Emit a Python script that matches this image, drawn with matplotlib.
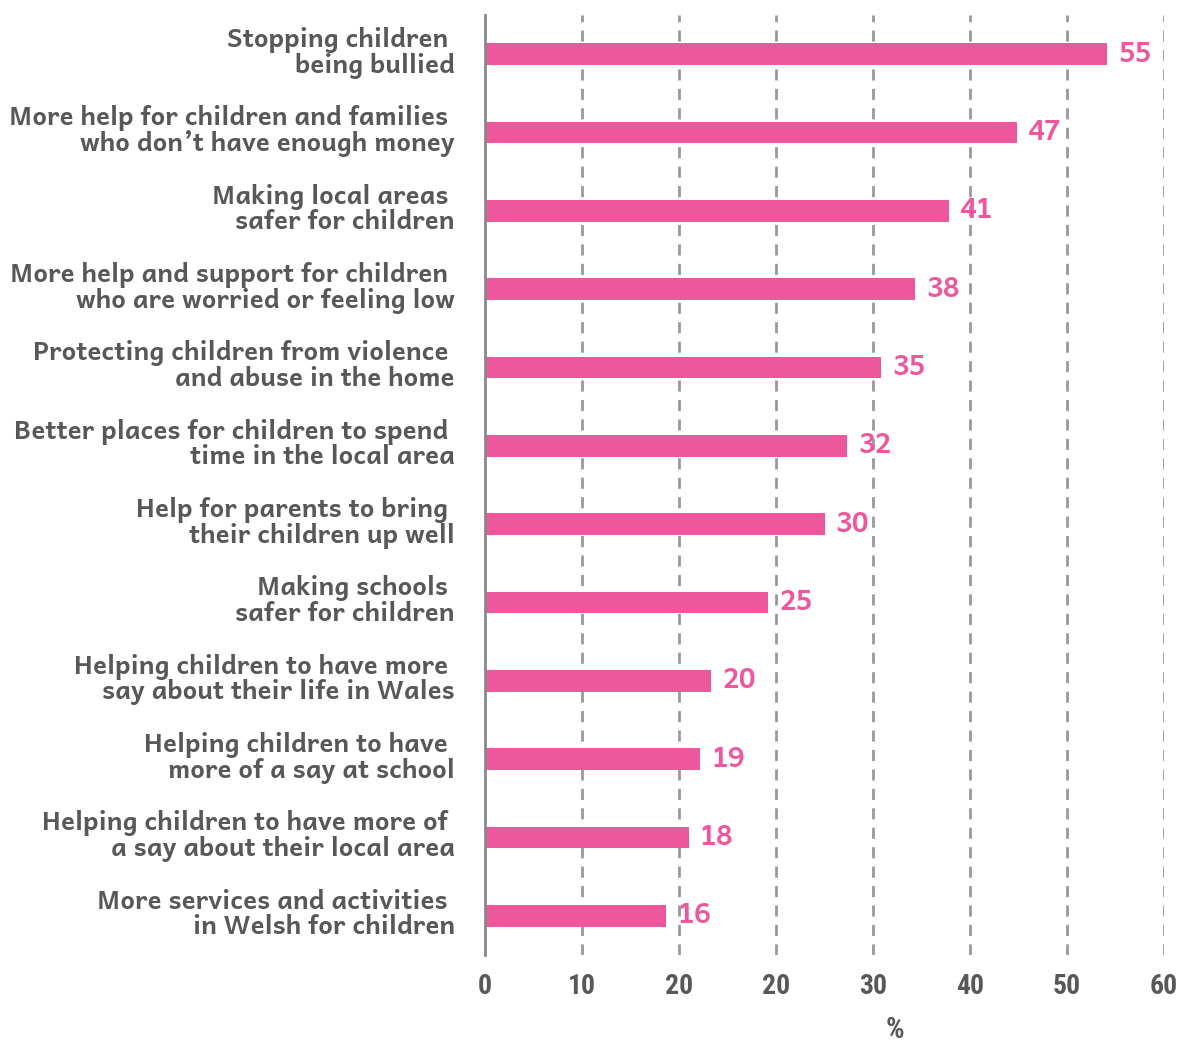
import matplotlib
matplotlib.use("Agg")
import matplotlib.pyplot as plt
import matplotlib.transforms as mtransforms
import numpy as np

# Survey priorities, top to bottom
categories = [
    "Stopping children \nbeing bullied",
    "More help for children and families \nwho don\u2019t have enough money",
    "Making local areas \nsafer for children",
    "More help and support for children \nwho are worried or feeling low",
    "Protecting children from violence \nand abuse in the home",
    "Better places for children to spend \ntime in the local area",
    "Help for parents to bring \ntheir children up well",
    "Making schools \nsafer for children",
    "Helping children to have more \nsay about their life in Wales",
    "Helping children to have \nmore of a say at school",
    "Helping children to have more of \na say about their local area",
    "More services and activities \nin Welsh for children",
]
values = [55, 47, 41, 38, 35, 32, 30, 25, 20, 19, 18, 16]
tick_labels = ["0", "10", "20", "20", "30", "40", "50", "60"]

PINK = "#EF579C"
GREY_TEXT = "#58585A"
GRID = "#999999"
LABEL_FONT = ["Andika", "DejaVu Sans"]
TICK_FONT = ["Roboto Condensed", "DejaVu Sans"]

fig = plt.figure(figsize=(11.82, 10.42), dpi=100)
ax = fig.add_axes([0.4103, 0.0835, 0.5745, 0.9021])

y = np.arange(len(categories))
ax.barh(y, values, height=0.28, color=PINK, zorder=3)
ax.set_ylim(len(categories) - 0.5, -0.5)
ax.set_xlim(0, 60)

ax.set_yticks(y)
ax.set_yticklabels(categories, fontsize=18.6, fontweight="bold", color=GREY_TEXT,
                   family=LABEL_FONT, linespacing=0.98, ha="right")
ax.tick_params(axis="y", length=0, pad=21.6)
# nudge the category labels slightly upward
lift = mtransforms.ScaledTranslation(0, 3 / 72, fig.dpi_scale_trans)
for lbl in ax.get_yticklabels():
    lbl.set_transform(lbl.get_transform() + lift)

xt = np.linspace(0, 60, len(tick_labels))
ax.set_xticks(xt)
ax.set_xticklabels(tick_labels, fontsize=20, fontweight="bold", color=GREY_TEXT,
                   family=TICK_FONT)
ax.tick_params(axis="x", length=0, pad=13)

for v in xt[1:]:
    ax.axvline(v, color=GRID, linestyle=(0, (4, 3)), linewidth=2, zorder=1)

for s in ["top", "right", "bottom"]:
    ax.spines[s].set_visible(False)
ax.spines["left"].set_color("#888888")
ax.spines["left"].set_linewidth(2)
ax.spines["left"].set_zorder(4)

for yi, v in zip(y, values):
    ax.annotate(str(v), xy=(v, yi), xytext=(8, 0), textcoords="offset points",
                ha="left", va="center", fontsize=20, fontweight="bold",
                color=PINK, family=LABEL_FONT, zorder=5)

fig.text(895 / 1182, 1 - 1030 / 1042, "%", ha="center", va="center",
         fontsize=21, fontweight="bold", color=GREY_TEXT, family=TICK_FONT)

fig.savefig("out.png", dpi=100)
